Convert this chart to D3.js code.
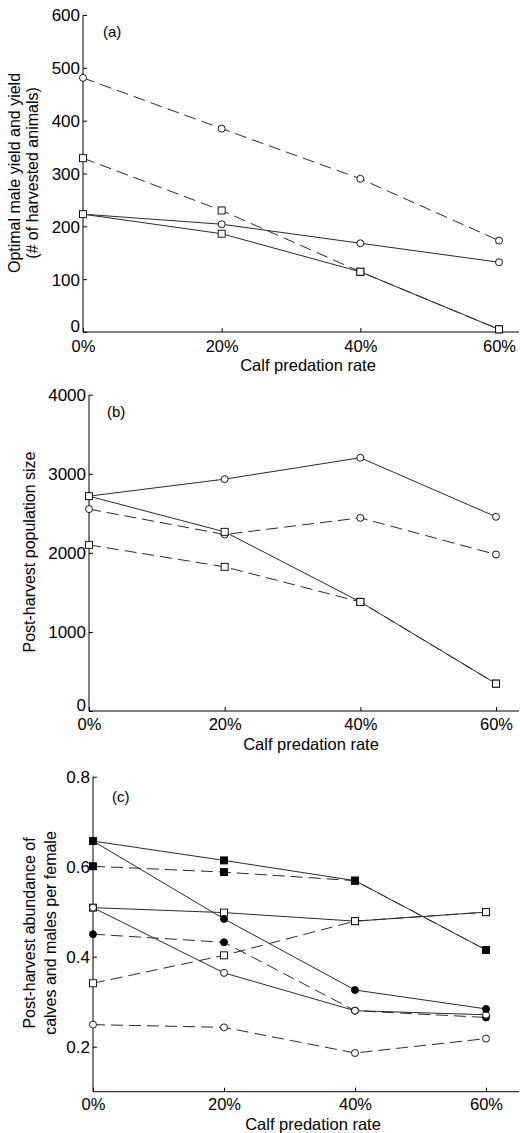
<!DOCTYPE html>
<html><head><meta charset="utf-8">
<script src="https://cdn.jsdelivr.net/npm/d3@7"></script>
<style>
html,body{margin:0;padding:0;background:#fff;}
svg{display:block;font-family:Arial,"Liberation Sans",sans-serif;}
</style></head>
<body><svg id="chart" width="520" height="1133"></svg>
<script>
// ---------- data ----------
const predationRates = [0, 20, 40, 60];

// panel (a): optimal male yield and yield
const aTicks = [0, 100, 200, 300, 400, 500, 600];
const aDashedCircle = [481, 385, 290, 173];
const aDashedSquare = [329, 230, 114, 5];
const aSolidCircle  = [223, 204, 168, 132];
const aSolidSquare  = [223, 186, 114, 5];

// panel (b): post-harvest population size
const bTicks = [0, 1000, 2000, 3000, 4000];
const bSolidCircle  = [2717, 2932, 3203, 2456];
const bSolidSquare  = [2717, 2266, 1380, 346];
const bDashedCircle = [2553, 2232, 2443, 1979];
const bDashedSquare = [2101, 1823, 1380, 346];

// panel (c): post-harvest abundance of calves and males per female
const cTicks = [0.2, 0.4, 0.6, 0.8];
const cSolidFilledSquare  = [0.657, 0.614, 0.569, 0.415];
const cDashedFilledSquare = [0.601, 0.588, 0.569, 0.415];
const cSolidFilledCircle  = [0.657, 0.484, 0.326, 0.284];
const cDashedFilledCircle = [0.450, 0.432, 0.280, 0.265];
const cSolidOpenSquare    = [0.509, 0.498, 0.479, 0.499];
const cDashedOpenSquare   = [0.341, 0.403, 0.479, 0.499];
const cSolidOpenCircle    = [0.509, 0.364, 0.280, 0.271];
const cDashedOpenCircle   = [0.249, 0.243, 0.186, 0.218];

const xLabel = "Calf predation rate";

// ---------- drawing ----------
const svg = d3.select("#chart");

function panel(cfg) {
  const g = svg.append("g");
  const x = d3.scaleLinear().domain([0, 60]).range([cfg.x0, cfg.x60]);
  const y = d3.scaleLinear().domain(cfg.yDomain).range([cfg.yBottom, cfg.yTop]);

  // axes (MATLAB style: inward ticks, left + bottom only)
  const yAxis = d3.axisRight(y).tickValues(cfg.yTicks).tickSize(4).tickFormat(cfg.yFmt);
  const ya = g.append("g").attr("transform", `translate(${cfg.x0},0)`).call(yAxis);
  ya.select(".domain").remove();
  ya.selectAll("text").attr("x", -3).attr("text-anchor", "end")
    .attr("dy", (d, i) => (i === 0 && cfg.zeroUp) ? "-0.05em" : "0.35em")
    .style("font-size", "17px").style("fill", "#000")
    .style("font-family", "Arial, 'Liberation Sans', sans-serif");
  ya.selectAll("line").attr("stroke", "#000");

  const xAxis = d3.axisTop(x).tickValues(predationRates).tickSize(4).tickFormat(d => d + "%");
  const xa = g.append("g").attr("transform", `translate(0,${cfg.yBottom})`).call(xAxis);
  xa.select(".domain").remove();
  xa.selectAll("text").attr("y", cfg.xTickDy).attr("dy", "0.35em")
    .style("font-size", "16.5px").style("fill", "#000")
    .style("font-family", "Arial, 'Liberation Sans', sans-serif");
  xa.selectAll("line").attr("stroke", "#000");

  g.append("line").attr("x1", cfg.x0).attr("x2", cfg.x0)
    .attr("y1", cfg.yTop).attr("y2", cfg.yBottom).attr("stroke", "#000");
  g.append("line").attr("x1", cfg.x0).attr("x2", 519)
    .attr("y1", cfg.yBottom).attr("y2", cfg.yBottom).attr("stroke", "#000");

  // series lines
  const line = d3.line().x((d, i) => x(predationRates[i])).y(d => y(d));
  cfg.series.forEach(s => {
    g.append("path").attr("d", line(s.values)).attr("fill", "none")
      .attr("stroke", "#2a2a2a").attr("stroke-width", 1)
      .attr("stroke-dasharray", s.dashed ? "12,6" : null);
  });
  // markers
  cfg.series.forEach(s => {
    s.values.forEach((v, i) => {
      const cx = x(predationRates[i]), cy = y(v);
      const fill = s.filled ? "#000" : "#fff";
      if (s.marker === "circle") {
        g.append("circle").attr("cx", cx).attr("cy", cy).attr("r", 3.5)
          .attr("fill", fill).attr("stroke", "#000").attr("stroke-width", 0.9);
      } else {
        g.append("rect").attr("x", cx - 3.5).attr("y", cy - 3.5)
          .attr("width", 7).attr("height", 7)
          .attr("fill", fill).attr("stroke", "#000").attr("stroke-width", 0.9);
      }
    });
  });

  // labels
  g.append("text").attr("x", cfg.tagX).attr("y", cfg.tagY).attr("dy", "0.35em")
    .style("font-size", "15px").text(cfg.tag);
  g.append("text").attr("x", (cfg.x0 + 519) / 2 + 7).attr("y", cfg.xLabelY).attr("dy", "0.35em")
    .attr("text-anchor", "middle").style("font-size", "16.5px").text(xLabel);
  const yl = g.append("text").attr("text-anchor", "middle")
    .attr("transform", `translate(${cfg.yLabelX},${cfg.yLabelY}) rotate(-90)`)
    .style("font-size", "16px");
  cfg.yLabel.forEach((t, i) => {
    yl.append("tspan").attr("x", 0).attr("dy", i === 0 ? 0 : cfg.yLabelGap).text(t);
  });
}

panel({
  x0: 83, x60: 499, yTop: 15, yBottom: 332, yDomain: [0, 600], yTicks: aTicks,
  yFmt: d3.format("d"), xTickDy: 14, xLabelY: 365, zeroUp: true,
  tag: "(a)", tagX: 103, tagY: 32,
  yLabel: ["Optimal male yield and yield", "(# of harvested animals)"],
  yLabelX: 20, yLabelY: 173, yLabelGap: 18,
  series: [
    { values: aDashedCircle, dashed: true,  marker: "circle", filled: false },
    { values: aDashedSquare, dashed: true,  marker: "square", filled: false },
    { values: aSolidCircle,  dashed: false, marker: "circle", filled: false },
    { values: aSolidSquare,  dashed: false, marker: "square", filled: false }
  ]
});

panel({
  x0: 89, x60: 496, yTop: 394.7, yBottom: 711, yDomain: [0, 4000], yTicks: bTicks,
  yFmt: d3.format("d"), xTickDy: 13, xLabelY: 744, zeroUp: true,
  tag: "(b)", tagX: 107, tagY: 412,
  yLabel: ["Post-harvest population size"],
  yLabelX: 35, yLabelY: 552, yLabelGap: 18,
  series: [
    { values: bDashedCircle, dashed: true,  marker: "circle", filled: false },
    { values: bDashedSquare, dashed: true,  marker: "square", filled: false },
    { values: bSolidCircle,  dashed: false, marker: "circle", filled: false },
    { values: bSolidSquare,  dashed: false, marker: "square", filled: false }
  ]
});

panel({
  x0: 93, x60: 486, yTop: 776.7, yBottom: 1091.7, yDomain: [0.1, 0.8], yTicks: cTicks,
  yFmt: d3.format(".1f"), xTickDy: 13, xLabelY: 1124, zeroUp: false,
  tag: "(c)", tagX: 112, tagY: 797,
  yLabel: ["Post-harvest abundance of", "calves and males per female"],
  yLabelX: 35, yLabelY: 933, yLabelGap: 21,
  series: [
    { values: cDashedFilledSquare, dashed: true,  marker: "square", filled: true },
    { values: cDashedFilledCircle, dashed: true,  marker: "circle", filled: true },
    { values: cDashedOpenSquare,   dashed: true,  marker: "square", filled: false },
    { values: cDashedOpenCircle,   dashed: true,  marker: "circle", filled: false },
    { values: cSolidOpenSquare,    dashed: false, marker: "square", filled: false },
    { values: cSolidOpenCircle,    dashed: false, marker: "circle", filled: false },
    { values: cSolidFilledCircle,  dashed: false, marker: "circle", filled: true },
    { values: cSolidFilledSquare,  dashed: false, marker: "square", filled: true }
  ]
});
</script></body></html>
